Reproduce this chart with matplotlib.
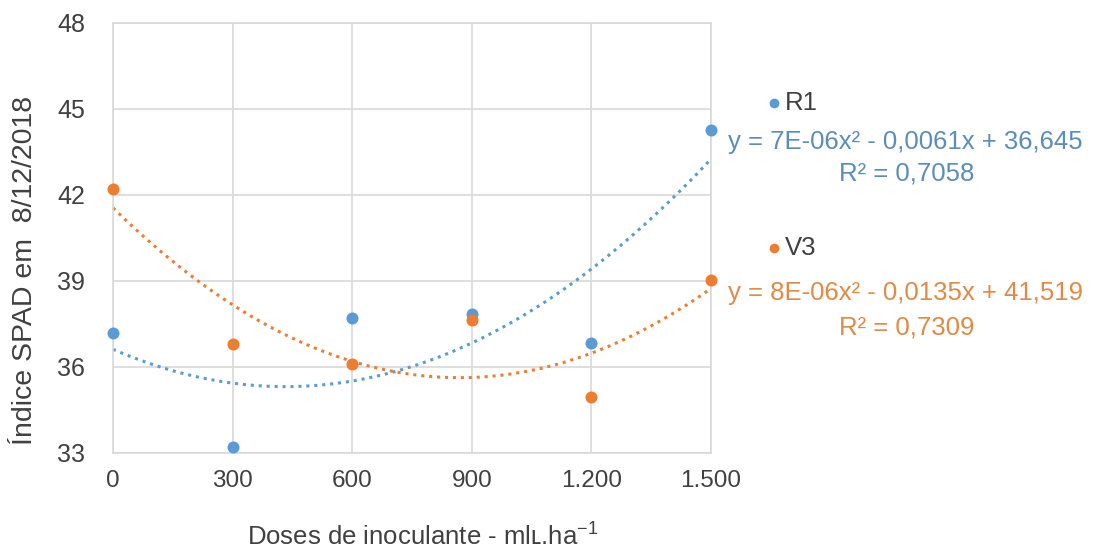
import matplotlib
matplotlib.use("Agg")
import matplotlib.pyplot as plt
from matplotlib.lines import Line2D
import numpy as np

# ── Data ─────────────────────────────────────────────────────────────────────
doses = [0, 300, 600, 900, 1200, 1500]
r1 = [37.2, 33.2, 37.7, 37.85, 36.85, 44.27]
v3 = [42.2, 36.8, 36.1, 37.65, 34.97, 39.05]

x_ticks = [0, 300, 600, 900, 1200, 1500]
x_tick_labels = ["0", "300", "600", "900", "1.200", "1.500"]
y_ticks = [33, 36, 39, 42, 45, 48]

eq_r1 = "y = 7E-06x² - 0,0061x + 36,645"
r2_r1 = "R² = 0,7058"
eq_v3 = "y = 8E-06x² - 0,0135x + 41,519"
r2_v3 = "R² = 0,7309"

# ── Style ────────────────────────────────────────────────────────────────────
C_BLUE = "#5B9BD5"
C_ORANGE = "#ED7D31"
C_BLUE_TXT = "#5A8DBA"
C_ORANGE_TXT = "#E08A45"
C_TEXT = "#404040"
C_GRID = "#D9D9D9"
FONT = ["Liberation Sans", "DejaVu Sans"]

plt.rcParams["font.family"] = FONT

fig = plt.figure(figsize=(10.96, 5.51), dpi=100)
fig.patch.set_facecolor("white")
ax = fig.add_axes([0.1031, 0.1779, 0.5456, 0.7804])

# trendlines (2nd order polynomial, like Excel)
xs = np.linspace(0, 1500, 200)
for ys, col in ((r1, C_BLUE), (v3, C_ORANGE)):
    coef = np.polyfit(doses, ys, 2)
    ax.plot(xs, np.polyval(coef, xs), color=col, linewidth=2.2,
            linestyle=(0, (1, 1.6)), zorder=2, clip_on=False)

ax.scatter(doses, r1, s=75, color=C_BLUE, zorder=4, clip_on=False, linewidths=0)
ax.scatter(doses, v3, s=75, color=C_ORANGE, zorder=4, clip_on=False, linewidths=0)

ax.set_xlim(0, 1500)
ax.set_ylim(33, 48)
ax.set_xticks(x_ticks)
ax.set_xticklabels(x_tick_labels)
ax.set_yticks(y_ticks)
ax.grid(True, color=C_GRID, linewidth=1.2)
ax.set_axisbelow(True)
for sp in ax.spines.values():
    sp.set_color(C_GRID)
    sp.set_linewidth(1.2)
ax.tick_params(axis="x", length=0, labelsize=17.5, colors=C_TEXT, pad=12)
ax.tick_params(axis="y", length=0, labelsize=18, colors=C_TEXT, pad=20)

ax.set_ylabel("Índice SPAD em  8/12/2018", fontsize=20.5, color=C_TEXT,
              va="center")
ax.yaxis.set_label_coords(-0.147, 0.4256)
ax.set_xlabel("Doses de inoculante - mlʟ.ha$^{\\mathregular{-1}}$",
              fontsize=18.5, color=C_TEXT, va="center")
ax.xaxis.set_label_coords(0.518, -0.192)

# ── Legend + equations on the right ─────────────────────────────────────────
def fx(px):
    return px / 1096


def fy(py):
    return 1 - py / 551


for py, col, name in ((103, C_BLUE, "R1"), (248, C_ORANGE, "V3")):
    fig.add_artist(Line2D([fx(774)], [fy(py)], marker="o", markersize=6,
                          color=col, linestyle="none", transform=fig.transFigure))
    fig.text(fx(785), fy(py), name, fontsize=18.5, color=C_TEXT,
             ha="left", va="center")

fig.text(fx(905), fy(142), eq_r1, fontsize=18.5, color=C_BLUE_TXT, ha="center", va="center")
fig.text(fx(907), fy(174), r2_r1, fontsize=18.5, color=C_BLUE_TXT, ha="center", va="center")
fig.text(fx(905), fy(293), eq_v3, fontsize=18.5, color=C_ORANGE_TXT, ha="center", va="center")
fig.text(fx(907), fy(328), r2_v3, fontsize=18.5, color=C_ORANGE_TXT, ha="center", va="center")

fig.savefig("out.png", dpi=100, facecolor="white")
